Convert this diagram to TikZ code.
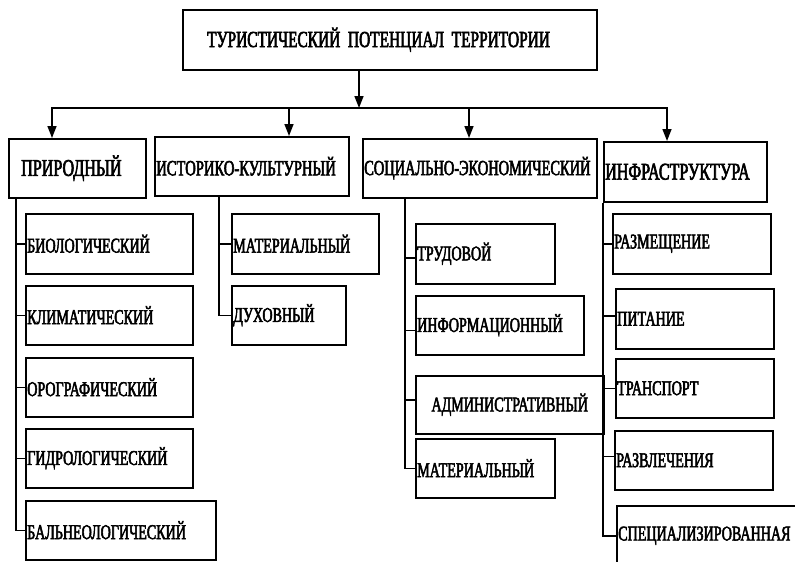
\documentclass[tikz,border=0pt]{standalone}
\usepackage{fontspec}
\setmainfont[FakeStretch=0.67, FakeBold=2.5]{Liberation Serif}
\usetikzlibrary{arrows.meta}
\newcommand\tightspace{\spaceskip=3pt\relax}
\tikzset{   main/.style = {rectangle, draw = black, line width = 1.5pt, anchor = north west, inner xsep = 1.5pt, inner ysep = 0pt, minimum height = 59pt, align = left, font = \fontsize{24}{26}\selectfont\tightspace},
            lower/.style = {main, font = \fontsize{21}{23}\selectfont},
            link/.style = {line width = 1.5pt},
            arr/.style = {line width = 1.5pt, -{Triangle[length=12pt,width=9pt]}}}

\begin{document}
\begin{tikzpicture}[x=1pt,y=-1pt]
                        \useasboundingbox (0,0) rectangle (795,562);
                        % top level
                        \node[main, text width = 411pt, minimum height = 60pt, font = \fontsize{23}{25}\selectfont\tightspace] (top) at (182,9) {\hspace*{23pt}ТУРИСТИЧЕСКИЙ ПОТЕНЦИАЛ ТЕРРИТОРИИ};
                        \node[main, text width = 134pt] (nat) at (8,138) {\hspace*{11pt}ПРИРОДНЫЙ};
                        \node[main, text width = 191pt, font = \fontsize{21.8}{24}\selectfont] (hist) at (154,136) {\mbox{ИСТОРИКО-КУЛЬТУРНЫЙ}};
                        \node[main, text width = 231pt, font = \fontsize{21.5}{24}\selectfont] (soc) at (362,138) {\mbox{СОЦИАЛЬНО-ЭКОНОМИЧЕСКИЙ}};
                        \node[main, text width = 160pt, minimum height = 60pt] (inf) at (603,141) {ИНФРАСТРУКТУРА};
                        % natural
                        \node[lower, text width = 164pt, minimum height = 60pt] (bio) at (25,213) {БИОЛОГИЧЕСКИЙ};
                        \node[lower, text width = 164pt] (clim) at (25,285) {КЛИМАТИЧЕСКИЙ};
                        \node[lower, text width = 164pt] (oro) at (25,357) {ОРОГРАФИЧЕСКИЙ};
                        \node[lower, text width = 164pt] (hydro) at (25,428) {ГИДРОЛОГИЧЕСКИЙ};
                        \node[lower, text width = 187pt] (baln) at (25,500) {БАЛЬНЕОЛОГИЧЕСКИЙ};
                        % historical
                        \node[lower, text width = 144pt, minimum height = 60pt] (mat) at (231,213) {МАТЕРИАЛЬНЫЙ};
                        \node[lower, text width = 111pt] (spir) at (231,285) {ДУХОВНЫЙ};
                        % social
                        \node[lower, text width = 136pt, minimum height = 60pt] (lab) at (415,223) {ТРУДОВОЙ};
                        \node[lower, text width = 165pt] (info) at (415,295) {ИНФОРМАЦИОННЫЙ};
                        \node[lower, text width = 185pt, minimum height = 58pt, align = center] (adm) at (415,375) {АДМИНИСТРАТИВНЫЙ};
                        \node[lower, text width = 136pt] (matr) at (415,438) {МАТЕРИАЛЬНЫЙ};
                        % infrastructure
                        \node[lower, text width = 155pt, minimum height = 60pt] (acc) at (612,213) {РАЗМЕЩЕНИЕ};
                        \node[lower, text width = 155pt, minimum height = 60pt] (food) at (615,288) {ПИТАНИЕ};
                        \node[lower, text width = 155pt] (trans) at (615,358) {ТРАНСПОРТ};
                        \node[lower, text width = 155pt] (ent) at (614,430) {РАЗВЛЕЧЕНИЯ};
                        \node[lower, text width = 197pt, minimum height = 60pt] (spec) at (616,505) {СПЕЦИАЛИЗИРОВАННАЯ};
                        % arrows
                        \coordinate (bus) at (359,108);
                        \coordinate (b1) at (52,108);
                        \coordinate (b2) at (289,108);
                        \coordinate (b3) at (469,108);
                        \coordinate (b4) at (667,108);
                        \draw[arr] (bus |- top.south) -- (bus);
                        \draw[link, line cap = rect] (b1) -- (b4);
                        \draw[arr] (b1) -- (b1 |- nat.north);
                        \draw[arr] (b2) -- (b2 |- hist.north);
                        \draw[arr] (b3) -- (b3 |- soc.north);
                        \draw[arr] (b4) -- (b4 |- inf.north);
                        % branches
                        \draw[link] ([xshift=8pt]nat.south west) |- (bio.west);
                        \draw[link] ([xshift=8pt]nat.south west) |- (clim.west);
                        \draw[link] ([xshift=8pt]nat.south west) |- (oro.west);
                        \draw[link] ([xshift=8pt]nat.south west) |- (hydro.west);
                        \draw[link] ([xshift=8pt]nat.south west) |- (baln.west);
                        \draw[link] ([xshift=65pt]hist.south west) |- (mat.west);
                        \draw[link] ([xshift=65pt]hist.south west) |- (spir.west);
                        \draw[link] ([xshift=43pt]soc.south west) |- ([yshift=-4pt]lab.west);
                        \draw[link] ([xshift=43pt]soc.south west) |- ([yshift=-5pt]info.west);
                        \draw[link] ([xshift=43pt]soc.south west) |- ([yshift=5pt]adm.west);
                        \draw[link] ([xshift=43pt]soc.south west) |- (matr.west);
                        \draw[link] (inf.south west) |- (acc.west);
                        \draw[link] (inf.south west) |- ([yshift=3pt]food.west);
                        \draw[link] (inf.south west) |- (trans.west);
                        \draw[link] (inf.south west) |- ([yshift=4pt]ent.west);
                        \draw[link] (inf.south west) |- (spec.west);
                      \end{tikzpicture}
\end{document}
